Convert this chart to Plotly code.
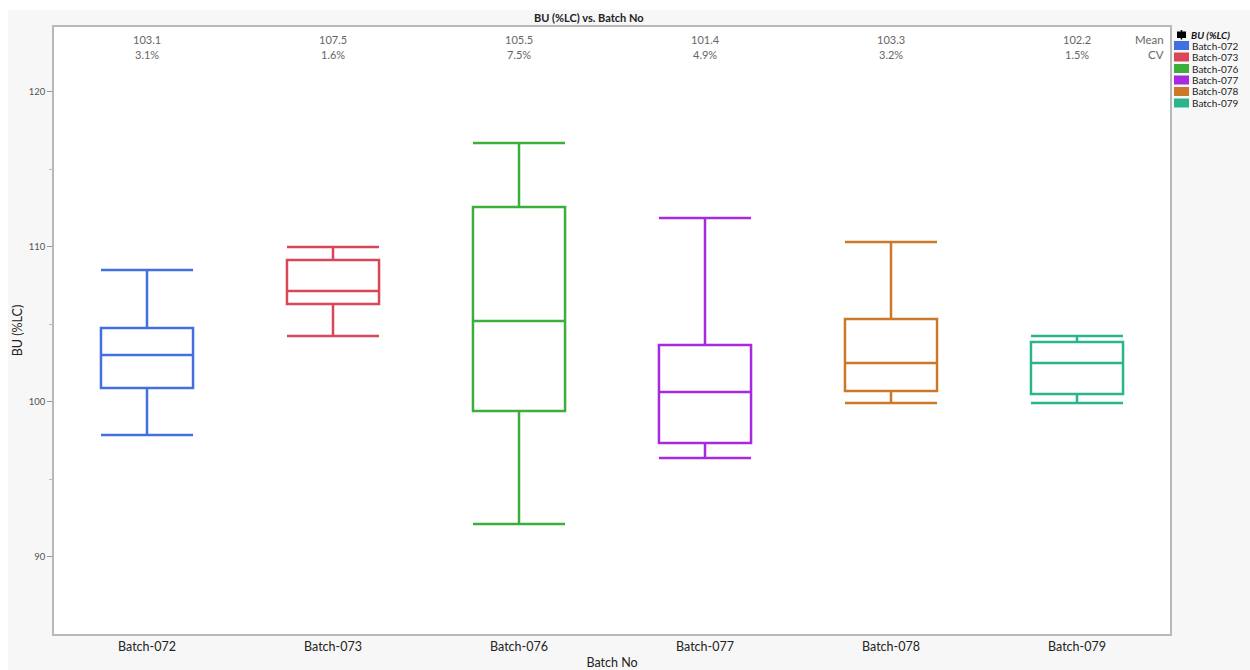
import plotly.graph_objects as go

# Batch summary statistics for BU (%LC)
batches = ["Batch-072", "Batch-073", "Batch-076", "Batch-077", "Batch-078", "Batch-079"]
lower_whisker = [97.87, 104.26, 92.13, 96.39, 99.94, 99.94]
q1_values = [100.90, 106.32, 99.42, 97.35, 100.71, 100.52]
medians = [103.03, 107.16, 105.23, 100.65, 102.52, 102.52]
q3_values = [104.77, 109.16, 112.58, 103.68, 105.35, 103.87]
upper_whisker = [108.52, 110.00, 116.71, 111.87, 110.32, 104.26]
mean_labels = ["103.1", "107.5", "105.5", "101.4", "103.3", "102.2"]
cv_labels = ["3.1%", "1.6%", "7.5%", "4.9%", "3.2%", "1.5%"]
colors = ["#4370e0", "#d94657", "#3cae3c", "#a52ae0", "#cc7829", "#2bb58c"]

FONT = "Lato, Noto Sans, sans-serif"

fig = go.Figure()
for name, lo, q1, med, q3, hi, col in zip(batches, lower_whisker, q1_values, medians,
                                          q3_values, upper_whisker, colors):
    fig.add_trace(go.Box(
        x=[name], q1=[q1], median=[med], q3=[q3], lowerfence=[lo], upperfence=[hi],
        name=name, line=dict(color=col, width=2.5), fillcolor="rgba(0,0,0,0)",
        width=0.495, whiskerwidth=1, showlegend=False, hoverinfo="y",
    ))

# Plot area geometry in pixels (used to place items outside the axes)
W, H = 1250, 670
L, R, T, B = 54, 1170, 27, 634
def px_x(px):
    return (px - L) / (R - L)
def px_y(py):
    return (B - py) / (B - T)

annotations = []
shapes = []

def note(x, y, text, size, color, xref="paper", xanchor="center"):
    annotations.append(dict(x=x, xref=xref, y=y, yref="paper", text=text,
                            xanchor=xanchor, yanchor="middle", showarrow=False,
                            font=dict(size=size, color=color, family=FONT)))

# Mean / CV row above each box
for name, m, cv in zip(batches, mean_labels, cv_labels):
    note(name, px_y(40), m, 11, "#666666", xref="x")
    note(name, px_y(55), cv, 11, "#666666", xref="x")
note(px_x(1166), px_y(40), "Mean", 11.5, "#666666", xanchor="right")
note(px_x(1166), px_y(55), "CV", 11.5, "#666666", xanchor="right")

# Chart title
note(px_x(589), px_y(17), "<b>BU (%LC) vs. Batch No</b>", 11, "#222222")

# White page edge at top and left
shapes.append(dict(type="rect", xref="paper", yref="paper", x0=px_x(0), x1=px_x(W),
                   y0=px_y(10), y1=px_y(0), fillcolor="white", line=dict(width=0), layer="above"))
shapes.append(dict(type="rect", xref="paper", yref="paper", x0=px_x(0), x1=px_x(8),
                   y0=px_y(H), y1=px_y(0), fillcolor="white", line=dict(width=0), layer="above"))

# Legend block
legend_x0, legend_x1 = 1174, 1189
row_y = [45.5, 57, 68.5, 80, 91.5, 103]
shapes.append(dict(type="rect", xref="paper", yref="paper", x0=px_x(1177), x1=px_x(1186),
                   y0=px_y(38), y1=px_y(31.5), fillcolor="black", line=dict(width=0)))
shapes.append(dict(type="line", xref="paper", yref="paper", x0=px_x(1181.5), x1=px_x(1181.5),
                   y0=px_y(39.5), y1=px_y(30), line=dict(color="black", width=1.5)))
note(px_x(1189), px_y(34.5), "<b><i>BU (%LC)</i></b>", 10, "#111111", xanchor="left")
for name, col, cy in zip(batches, colors, row_y):
    shapes.append(dict(type="rect", xref="paper", yref="paper", x0=px_x(legend_x0),
                       x1=px_x(legend_x1), y0=px_y(cy + 4.5), y1=px_y(cy - 4.5),
                       fillcolor=col, line=dict(width=0)))
    note(px_x(1189.5), px_y(cy), name, 10, "#222222", xanchor="left")

fig.update_layout(
    width=W, height=H,
    margin=dict(l=L, r=W - R, t=T, b=H - B, autoexpand=False),
    paper_bgcolor="#f7f7f7", plot_bgcolor="white",
    boxmode="overlay",
    font=dict(family=FONT),
    annotations=annotations, shapes=shapes,
    showlegend=False,
)
fig.update_xaxes(
    type="category", categoryorder="array", categoryarray=batches, range=[-0.5, 5.5],
    showgrid=False, showline=True, mirror=True, linecolor="#b8b8b8", linewidth=1.5,
    ticks="", tickfont=dict(size=12.5, color="#222222", family=FONT),
    title=dict(text="Batch No", font=dict(size=12.5, color="#222222", family=FONT), standoff=5),
    automargin=False, zeroline=False,
)
fig.update_yaxes(
    range=[85.03, 124.19], dtick=10, tick0=0,
    showgrid=False, showline=True, mirror=True, linecolor="#b8b8b8", linewidth=1.5,
    ticks="outside", ticklen=5, tickcolor="#999999",
    minor=dict(dtick=5, tick0=0, ticks="outside", ticklen=3, tickcolor="#bbbbbb"),
    tickfont=dict(size=9.5, color="#555555", family=FONT),
    title=dict(text="BU (%LC)", font=dict(size=12.5, color="#222222", family=FONT), standoff=3),
    automargin=False, zeroline=False,
)

fig.write_html("out.html")
